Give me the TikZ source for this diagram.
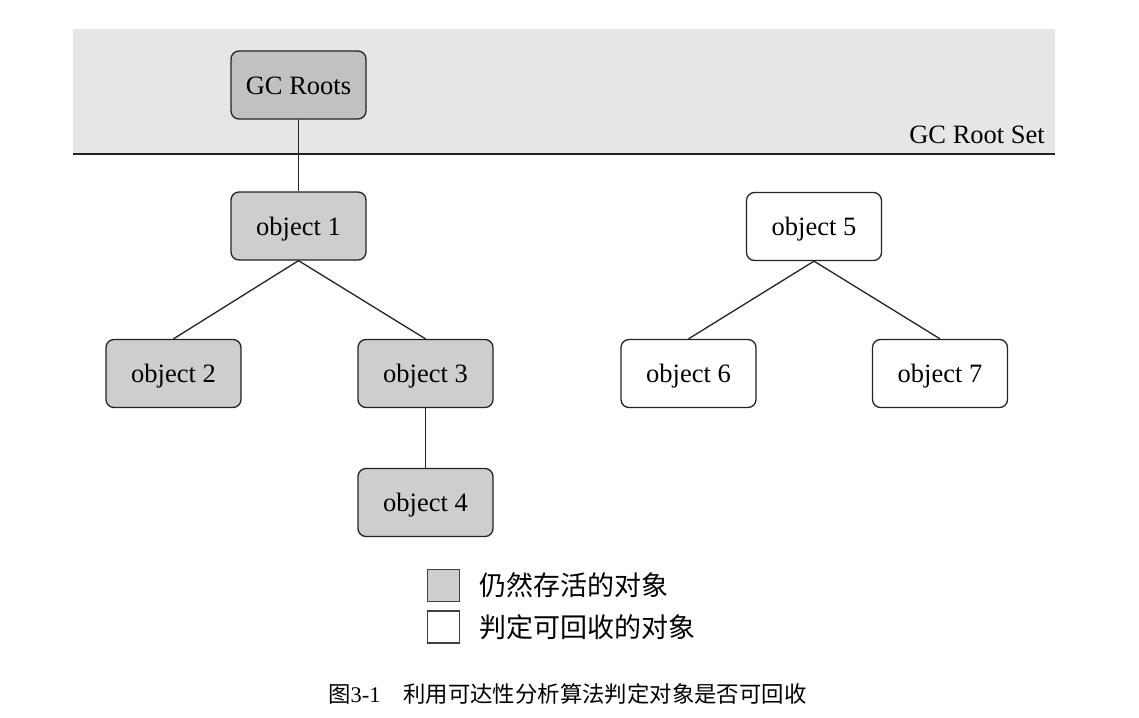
\documentclass[tikz,border=0pt]{standalone}
\usepackage{fontspec}
\setmainfont{Liberation Serif}
\newfontfamily\cjk{Noto Sans CJK SC}
\definecolor{bandgray}{RGB}{230,230,230}
\definecolor{livegray}{RGB}{205,206,208}
\definecolor{rootgray}{RGB}{192,193,195}
\definecolor{edgecol}{RGB}{35,35,35}
\begin{document}
\begin{tikzpicture}[x=1pt,y=-1pt,
  obj/.style={draw=edgecol, rounded corners=8pt, line width=1.3pt, minimum width=135pt, minimum height=68pt, inner sep=0pt, text height=18pt, text depth=0pt, font=\fontsize{26.5}{30}\selectfont},
  liveobj/.style={obj, fill=livegray},
  deadobj/.style={obj, fill=white},
  link/.style={draw=edgecol, line width=1.3pt},
  legbox/.style={draw=black!75, line width=1.6pt, minimum size=32pt, inner sep=0pt},
  legtext/.style={anchor=west, inner sep=0pt, font=\cjk\fontsize{27}{30}\selectfont},
  captext/.style={anchor=west, inner sep=0pt, font=\cjk\fontsize{22.4}{26}\selectfont}]
\useasboundingbox (0,0) rectangle (1139,717);
% root set band
\fill[bandgray] (73,29) rectangle (1055,154);
\draw[edgecol, line width=1.3pt] (73,154) -- (1055,154);
\node[anchor=base east, inner sep=0pt, font=\fontsize{26.5}{30}\selectfont] (setlabel) at (1045,143) {GC Root Set};
% nodes
\node[liveobj, fill=rootgray] (root) at (298.5,85) {GC Roots};
\node[liveobj] (o1) at (298.5,226) {object 1};
\node[liveobj] (o2) at (173.5,373.5) {object 2};
\node[liveobj] (o3) at (425.5,373.5) {object 3};
\node[liveobj] (o4) at (425.5,502.5) {object 4};
\node[deadobj] (o5) at (814,226.5) {object 5};
\node[deadobj] (o6) at (688.5,373.5) {object 6};
\node[deadobj] (o7) at (940,373.5) {object 7};
% connectors
\draw[link] (root.south) -- (o1.north);
\draw[link] (o1.south) -- (o2.north);
\draw[link] (o1.south) -- (o3.north);
\draw[link] (o3.south) -- (o4.north);
\draw[link] (o5.south) -- (o6.north);
\draw[link] (o5.south) -- (o7.north);
% legend
\node[legbox, fill=livegray] (lg1) at (443.5,585.5) {};
\node[legtext] (lt1) at (479,585.5) {仍然存活的对象};
\node[legbox, fill=white] (lg2) at (443.5,627) {};
\node[legtext] (lt2) at (479,627) {判定可回收的对象};
% caption
\node[captext] (capnum) at (328,694) {图\fontspec{Liberation Serif}3-1};
\node[captext] (captitle) at (403,694) {利用可达性分析算法判定对象是否可回收};
\end{tikzpicture}
\end{document}
